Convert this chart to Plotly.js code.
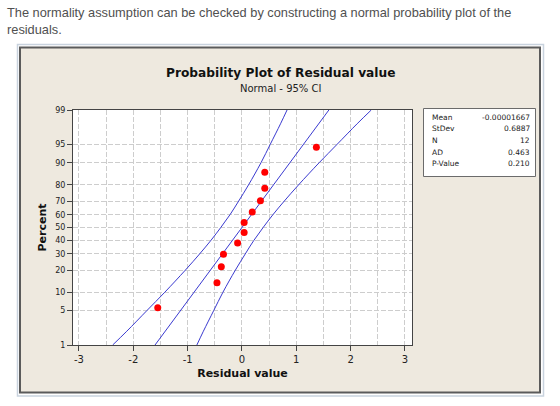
<!DOCTYPE html>
<html>
<head>
<meta charset="utf-8">
<script src="https://cdn.plot.ly/plotly-3.0.1.min.js"></script>
<style>html,body{margin:0;padding:0;background:#fff;}#chart{width:560px;height:406px;}</style>
</head>
<body>
<div id="chart"></div>
<script>
// ---- data ----
const residuals = [-1.55, -0.46, -0.38, -0.34, -0.08, 0.04, 0.04, 0.19, 0.34, 0.42, 0.42, 1.37];
const pointPercents = [5.6, 13.7, 21.8, 29.8, 37.9, 46.0, 54.0, 62.1, 70.2, 78.2, 86.3, 94.4];

const fitPercents = [1, 99];
const fitX = [-1.60, 1.60];

const ciPercents = [1, 2, 5, 10, 20, 30, 40, 50, 60, 70, 80, 90, 95, 98, 99];
const ciLeftX  = [-2.38, -2.12, -1.75, -1.42, -1.04, -0.78, -0.57, -0.39, -0.22, -0.06, 0.12, 0.35, 0.52, 0.71, 0.83];
const ciRightX = [-0.83, -0.71, -0.52, -0.35, -0.12, 0.06, 0.22, 0.39, 0.57, 0.78, 1.04, 1.42, 1.75, 2.12, 2.38];

const yTickPercents = [1, 5, 10, 20, 30, 40, 50, 60, 70, 80, 90, 95, 99];
const xTickVals = [-3, -2, -1, 0, 1, 2, 3];

const statLabels = ["Mean", "StDev", "N", "AD", "P-Value"];
const statValues = ["-0.00001667", "0.6887", "12", "0.463", "0.210"];

const chartTitle = "Probability Plot of Residual value";
const chartSubtitle = "Normal - 95% CI";
const bodyLines = ["The normality assumption can be checked by constructing a normal probability plot of the", "residuals."];

// ---- normal probability scale (axis transform) ----
function norminv(p) {
  const a=[-3.969683028665376e+01,2.209460984245205e+02,-2.759285104469687e+02,1.383577518672690e+02,-3.066479806614716e+01,2.506628277459239e+00];
  const b=[-5.447609879822406e+01,1.615858368580409e+02,-1.556989798598866e+02,6.680131188771972e+01,-1.328068155288572e+01];
  const c=[-7.784894002430293e-03,-3.223964580411365e-01,-2.400758277161838e+00,-2.549671875714869e+00,4.374664141464968e+00,2.938163982698783e+00];
  const d=[7.784695709041462e-03,3.224671290700398e-01,2.445134137142996e+00,3.754408661907416e+00];
  const pl=0.02425, ph=1-pl; let q,r;
  if (p<pl){ q=Math.sqrt(-2*Math.log(p)); return (((((c[0]*q+c[1])*q+c[2])*q+c[3])*q+c[4])*q+c[5])/((((d[0]*q+d[1])*q+d[2])*q+d[3])*q+1); }
  if (p<=ph){ q=p-0.5; r=q*q; return (((((a[0]*r+a[1])*r+a[2])*r+a[3])*r+a[4])*r+a[5])*q/(((((b[0]*r+b[1])*r+b[2])*r+b[3])*r+b[4])*r+1); }
  q=Math.sqrt(-2*Math.log(1-p)); return -(((((c[0]*q+c[1])*q+c[2])*q+c[3])*q+c[4])*q+c[5])/((((d[0]*q+d[1])*q+d[2])*q+d[3])*q+1);
}
const z = pc => pc.map(v => norminv(v/100));

// ---- layout geometry (pixels) ----
const W=560, H=406, PL=73, PR=412, PT=110, PB=345;
const px = x => (x-PL)/(PR-PL);
const py = y => (PB-y)/(PB-PT);

const blue = '#3a3ad0';
const traces = [
  {x: ciLeftX, y: z(ciPercents), mode:'lines', line:{color:blue, width:1, shape:'spline'}, hoverinfo:'skip', showlegend:false},
  {x: fitX, y: z(fitPercents), mode:'lines', line:{color:blue, width:1}, hoverinfo:'skip', showlegend:false},
  {x: ciRightX, y: z(ciPercents), mode:'lines', line:{color:blue, width:1, shape:'spline'}, hoverinfo:'skip', showlegend:false},
  {x: residuals, y: z(pointPercents), mode:'markers', marker:{color:'#ff0000', size:7}, showlegend:false}
];

const shapes = [
  {type:'rect', xref:'paper', yref:'paper', x0:px(17.5), x1:px(543.5), y0:py(44.5), y1:py(396), line:{color:'#c9d3de', width:1.5}, fillcolor:'rgba(0,0,0,0)', layer:'below'},
  {type:'rect', xref:'paper', yref:'paper', x0:px(20), x1:px(540), y0:py(47.5), y1:py(392.5), line:{color:'#5b5b5b', width:2}, fillcolor:'#eee9df', layer:'below'},
  {type:'rect', xref:'paper', yref:'paper', x0:0, x1:1, y0:0, y1:1, line:{width:0}, fillcolor:'#ffffff', layer:'below'},
  {type:'rect', xref:'paper', yref:'paper', x0:px(423.5), x1:px(535.5), y0:py(108.5), y1:py(176.5), line:{color:'#6b6b6b', width:1}, fillcolor:'#ffffff', layer:'below'}
];

const annotations = [];
bodyLines.forEach((t,i)=>annotations.push({text:t, xref:'paper', yref:'paper', x:px(5), y:py(12+18*i), xanchor:'left', yanchor:'middle', showarrow:false, font:{family:'Liberation Sans, Arial, sans-serif', size:12.8, color:'#505050'}}));
annotations.push({text:'<b>'+chartTitle+'</b>', xref:'paper', yref:'paper', x:px(280), y:py(73), xanchor:'center', yanchor:'middle', showarrow:false, font:{family:'DejaVu Sans, sans-serif', size:12.2, color:'#111'}});
annotations.push({text:chartSubtitle, xref:'paper', yref:'paper', x:px(280), y:py(88), xanchor:'center', yanchor:'middle', showarrow:false, font:{family:'DejaVu Sans, sans-serif', size:10, color:'#222'}});
statLabels.forEach((t,i)=>{
  annotations.push({text:t, xref:'paper', yref:'paper', x:px(430), y:py(117+11.7*i), xanchor:'left', yanchor:'middle', showarrow:false, font:{family:'DejaVu Sans, sans-serif', size:7.5, color:'#222'}});
  annotations.push({text:statValues[i], xref:'paper', yref:'paper', x:px(532), y:py(117+11.7*i), xanchor:'right', yanchor:'middle', showarrow:false, font:{family:'DejaVu Sans, sans-serif', size:7.5, color:'#222'}});
});

const gridDash = '5px,2px';
const layout = {
  width:W, height:H,
  margin:{l:PL, r:W-PR, t:PT, b:H-PB, pad:0},
  paper_bgcolor:'#ffffff', plot_bgcolor:'rgba(0,0,0,0)',
  showlegend:false,
  xaxis:{
    range:[-3.11, 3.13], tickvals:xTickVals, ticktext:xTickVals.map(String),
    ticks:'outside', ticklen:5, tickcolor:'#444', tickwidth:1,
    showline:true, linecolor:'#444', linewidth:1, mirror:true,
    showgrid:false, zeroline:false,
    minor:{dtick:0.5, tick0:0, showgrid:true, gridcolor:'#cdcdcd', griddash:gridDash, gridwidth:1},
    tickfont:{family:'DejaVu Sans, sans-serif', size:10, color:'#222'},
    title:{text:'<b>Residual value</b>', font:{family:'DejaVu Sans, sans-serif', size:11, color:'#111'}, standoff:5},
    fixedrange:true
  },
  yaxis:{
    range:[norminv(0.01), norminv(0.99)], tickvals:z(yTickPercents), ticktext:yTickPercents.map(String),
    ticks:'outside', ticklen:5, tickcolor:'#444', tickwidth:1,
    showline:true, linecolor:'#444', linewidth:1, mirror:true,
    showgrid:true, gridcolor:'#cdcdcd', griddash:gridDash, gridwidth:1, zeroline:false,
    tickfont:{family:'DejaVu Sans, sans-serif', size:8, color:'#222'},
    title:{text:'<b>Percent</b>', font:{family:'DejaVu Sans, sans-serif', size:11, color:'#111'}, standoff:6},
    fixedrange:true
  },
  shapes:shapes,
  annotations:annotations
};

Plotly.newPlot('chart', traces, layout, {displayModeBar:false, staticPlot:true});
</script>
</body>
</html>
